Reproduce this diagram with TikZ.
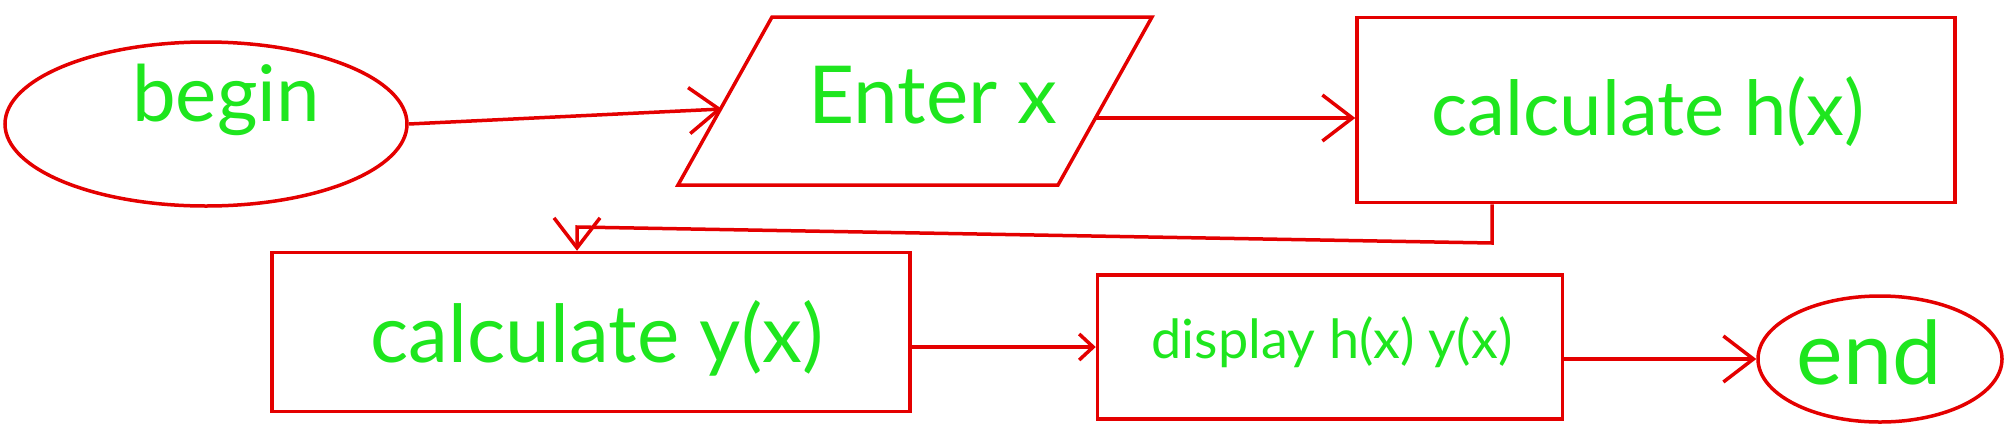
\documentclass[tikz,border=0pt]{standalone}
\usepackage{fontspec}
\setmainfont{Lato}
\usetikzlibrary{shapes.geometric,arrows.meta}
\definecolor{pen}{RGB}{228,0,0}
\definecolor{ink}{RGB}{30,230,30}
\begin{document}
\begin{tikzpicture}[x=1pt,y=-1pt,
  shapeline/.style={draw=pen, line width=3.5pt},
  lbl/.style={text=ink, inner sep=0pt},
  arr/.style={draw=pen, line width=3.5pt, -{Straight Barb[length=30pt,width=46pt,line width=3.5pt]}},
  smallarr/.style={draw=pen, line width=3.5pt, -{Straight Barb[length=14pt,width=26pt,line width=3.5pt]}}]
\useasboundingbox (0,0) rectangle (2004,432);
% shapes
\node[shapeline, ellipse, minimum width=402pt, minimum height=164pt] (begin) at (206,124) {};
\draw[shapeline] (772,17) -- (1152,17) -- (1058,185) -- (678,185) -- cycle;
\coordinate (inL) at (722,109);
\coordinate (outR) at (1095,118);
\node[shapeline, rectangle, minimum width=598pt, minimum height=185pt] (calch) at (1656,110) {};
\node[shapeline, rectangle, minimum width=638pt, minimum height=159pt] (calcy) at (591,332) {};
\node[shapeline, rectangle, minimum width=465pt, minimum height=144pt] (disp) at (1330,347) {};
\node[shapeline, ellipse, minimum width=244pt, minimum height=126pt] (stop) at (1880,359) {};
% texts
\node[lbl, font=\fontsize{78}{90}\selectfont] (tbegin) at (226,100) {begin};
\node[lbl, font=\fontsize{80}{92}\selectfont] (tenter) at (933,95) {Enter x};
\node[lbl, font=\fontsize{76}{88}\selectfont] (tcalch) at (1648,112) {calculate h(x)};
\node[lbl, font=\fontsize{80}{92}\selectfont] (tcalcy) at (597,338) {calculate y(x)};
\node[lbl, font=\fontsize{54}{64}\selectfont] (tdisp) at (1332,342) {display h(x) y(x)};
\node[lbl, font=\fontsize{88}{100}\selectfont] (tstop) at (1869,352) {end};
% connectors
\draw[arr] (begin.east) -- (inL);
\draw[arr] (outR) -- (calch.west |- outR);
\coordinate (k1) at (1492,243);
\coordinate (k2) at (577,227);
\draw[arr] (calch.south -| k1) -- (k1) -- (k2) -- (calcy.north -| k2);
\draw[smallarr] (calcy.east |- disp.west) -- (disp.west);
\draw[arr] (disp.east |- stop.west) -- (stop.west);
\end{tikzpicture}
\end{document}
